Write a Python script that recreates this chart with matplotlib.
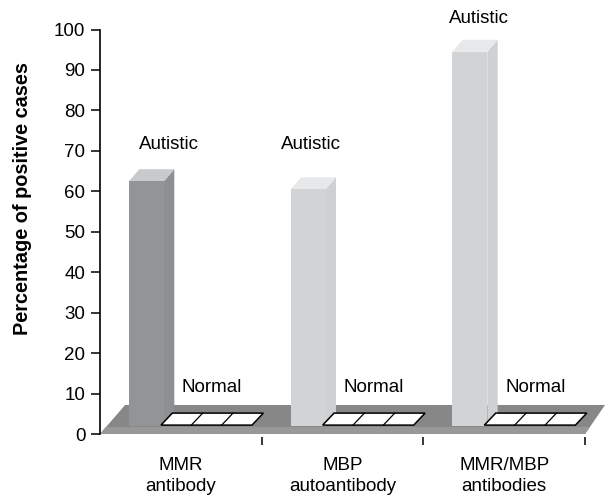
import matplotlib
matplotlib.use('Agg')
import matplotlib.pyplot as plt
from matplotlib.patches import Polygon, Rectangle


###############################################################################
# Data
###############################################################################

categories = ['MMR\nantibody', 'MBP\nautoantibody', 'MMR/MBP\nantibodies']
autistic = [62.5, 60.5, 94.5]
normal = [0, 0, 0]
yticks = list(range(0, 101, 10))

# Hand placed annotation anchors (x inside category, y in percent units)
autistic_label_x = [0.427, 0.305, 0.344]
autistic_label_y = [70.5, 70.5, 101.6]
normal_label_x = 0.693
normal_label_y = 10.4


###############################################################################
# Style
###############################################################################

plt.rcParams['font.family'] = ['Liberation Sans', 'DejaVu Sans']
plt.rcParams['font.size'] = 13.5

bar_front = ['#939496', '#d2d3d5', '#d2d3d5']
bar_top = ['#c9cacc', '#e7e8e9', '#e7e8e9']
bar_side = ['#8e8f91', '#cfd0d2', '#cfd0d2']
floor_color = '#878787'
band_color = '#989898'

# Pseudo 3D geometry in data units
bar_offset, bar_width, bar_base = 0.179, 0.2165, 2.1
norm_offset, norm_width, norm_base = 0.377, 0.563, 2.2
depth_x, depth_y = 0.064, 2.97


###############################################################################
# Plot
###############################################################################

figure = plt.figure(figsize=(6.08, 4.99), dpi=100)
ax = figure.add_axes([100 / 608, 62 / 499, 508 / 608, 437 / 499])
ax.set_xlim(0, 3.1416)
ax.set_ylim(-0.74, 107.3)

# Floor
ax.add_patch(Polygon(
    [(0, 0), (3.0, 0), (3.123, 7.17), (0.155, 7.17)],
    closed=True, facecolor=floor_color, edgecolor='none', zorder=1))
ax.add_patch(Polygon(
    [(0, 0), (3.0, 0), (3.03, 1.75), (0.037, 1.75)],
    closed=True, facecolor=band_color, edgecolor='none', zorder=1))

# Autistic bars
for i, value in enumerate(autistic):
    x0 = i + bar_offset
    x1 = x0 + bar_width
    ax.add_patch(Polygon(
        [(x1, bar_base), (x1 + depth_x, bar_base + depth_y),
         (x1 + depth_x, value + depth_y), (x1, value)],
        closed=True, facecolor=bar_side[i], edgecolor='none', zorder=2))
    ax.add_patch(Polygon(
        [(x0, value), (x1, value), (x1 + depth_x, value + depth_y),
         (x0 + depth_x, value + depth_y)],
        closed=True, facecolor=bar_top[i], edgecolor='none', zorder=2))
    ax.add_patch(Rectangle(
        (x0, bar_base), bar_width, value - bar_base,
        facecolor=bar_front[i], edgecolor='none', zorder=3))
    ax.text(i + autistic_label_x[i], autistic_label_y[i], 'Autistic',
            ha='center', va='baseline', zorder=5)

# Normal bars (flat, three cells)
for i, value in enumerate(normal):
    x0 = i + norm_offset
    y0 = norm_base + value
    ax.add_patch(Polygon(
        [(x0, y0), (x0 + norm_width, y0),
         (x0 + norm_width + depth_x * 1.1, y0 + depth_y),
         (x0 + depth_x * 1.1, y0 + depth_y)],
        closed=True, facecolor='white', edgecolor='black',
        linewidth=1.1, zorder=4))
    for k in (1, 2):
        xs = x0 + norm_width * k / 3
        ax.plot([xs, xs + depth_x * 1.1], [y0, y0 + depth_y],
                color='black', linewidth=0.9, zorder=4)
    ax.text(i + normal_label_x, normal_label_y, 'Normal',
            ha='center', va='baseline', zorder=5)

# Style axes
for side in ('top', 'right', 'bottom'):
    ax.spines[side].set_visible(False)
ax.spines['left'].set_bounds(0, 100)
ax.spines['left'].set_linewidth(1.2)
ax.set_yticks(yticks)
ax.tick_params(axis='y', direction='out', length=6.5, width=1.1, pad=4)

ax.set_xticks([1, 2, 3])
ax.set_xticklabels([])
ax.set_xticks([0.5, 1.5, 2.5], minor=True)
ax.set_xticklabels(categories, minor=True, linespacing=1.3)
ax.tick_params(axis='x', which='major', direction='out', length=5.8,
               width=1.1)
ax.tick_params(axis='x', which='minor', length=0, pad=14.5)

ax.set_ylabel('Percentage of positive cases', fontweight='bold',
              fontsize=14.3)
ax.yaxis.label.set_va('center')
ax.yaxis.set_label_coords(-0.152, 0.545)
ax.patch.set_visible(False)

figure.savefig('out.png', dpi=100)
